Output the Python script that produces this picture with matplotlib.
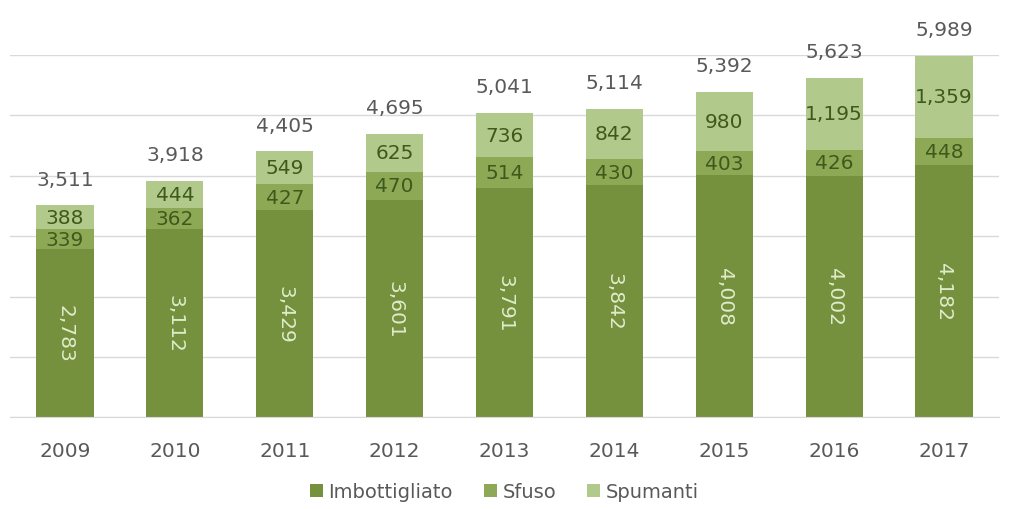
import matplotlib.pyplot as plt
import numpy as np

years = ['2009', '2010', '2011', '2012', '2013', '2014', '2015', '2016', '2017']
imbottigliato = [2783, 3112, 3429, 3601, 3791, 3842, 4008, 4002, 4182]
sfuso = [339, 362, 427, 470, 514, 430, 403, 426, 448]
spumanti = [388, 444, 549, 625, 736, 842, 980, 1195, 1359]
totals = [3511, 3918, 4405, 4695, 5041, 5114, 5392, 5623, 5989]

c_dark = '#76913d'
c_mid = '#8ea956'
c_light = '#b2c98c'
grey = '#595959'
fs = 14.5

plt.rcParams['font.family'] = ['DejaVu Sans']

fig = plt.figure(figsize=(10.09, 5.10), dpi=100)
ax = fig.add_axes([0.01, 0.18, 0.98, 0.71])

x = np.arange(len(years))
w = 0.52
imb = np.array(imbottigliato)
sf = np.array(sfuso)
sp = np.array(spumanti)

b1 = ax.bar(x, imb, w, color=c_dark, label='Imbottigliato', zorder=2)
b2 = ax.bar(x, sf, w, bottom=imb, color=c_mid, label='Sfuso', zorder=2)
b3 = ax.bar(x, sp, w, bottom=imb + sf, color=c_light, label='Spumanti', zorder=2)

# segment values inside the bars, totals on top
for i in range(len(years)):
    ax.text(x[i], imb[i] / 2, f'{imb[i]:,}', rotation=-90, ha='center', va='center',
            color='#dfeccc', fontsize=fs)
    ax.text(x[i], imb[i] + sf[i] / 2, f'{sf[i]:,}', ha='center', va='center',
            color='#3d5a1c', fontsize=fs)
    ax.text(x[i], imb[i] + sf[i] + sp[i] / 2, f'{sp[i]:,}', ha='center', va='center',
            color='#3d5a1c', fontsize=fs)
    ax.annotate(f'{totals[i]:,}', (x[i], totals[i]), xytext=(0, 12),
                textcoords='offset points', ha='center', va='bottom',
                color=grey, fontsize=fs, annotation_clip=False)

ax.set_ylim(0, 6000)
ax.set_xlim(-0.5, len(years) - 0.5)
ax.set_yticks(np.arange(0, 6001, 1000))
ax.yaxis.grid(True, color='#d9d9d9', linewidth=1, zorder=0)
ax.tick_params(axis='y', left=False, labelleft=False)
ax.tick_params(axis='x', length=0, pad=17, labelcolor=grey, labelsize=fs)
ax.set_xticks(x)
ax.set_xticklabels(years)
for s in ['top', 'right', 'left']:
    ax.spines[s].set_visible(False)
ax.spines['bottom'].set_color('#d9d9d9')

ax.legend(handles=[b1, b2, b3], loc='center', bbox_to_anchor=(0.5, -0.205),
          ncol=3, frameon=False, fontsize=14, labelcolor=grey,
          handlelength=0.65, handleheight=0.65, handletextpad=0.3, columnspacing=1.6)

fig.savefig('out.png', dpi=100)
